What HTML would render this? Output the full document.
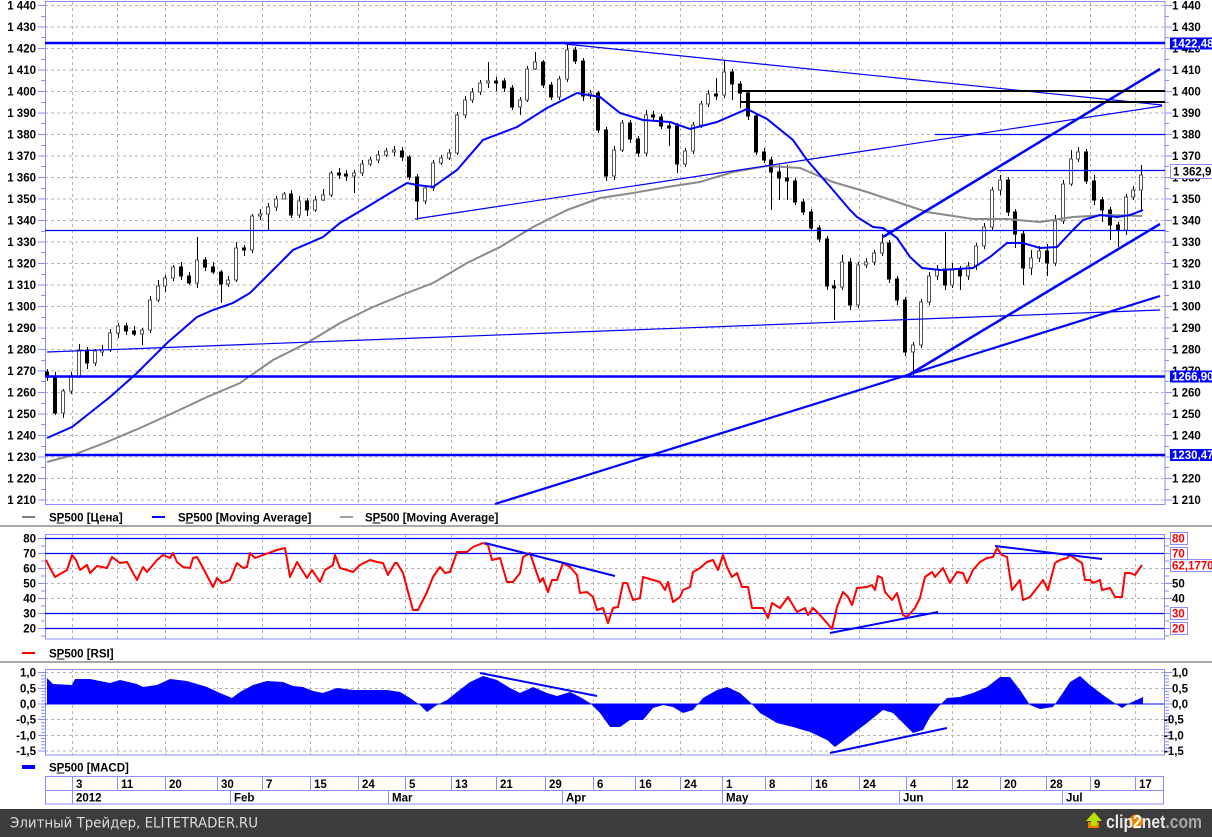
<!DOCTYPE html>
<html><head><meta charset="utf-8">
<style>
html,body{margin:0;padding:0;background:#fff;}
svg{display:block;}
.l{font-family:"Liberation Sans",Arial,sans-serif;font-weight:bold;font-size:11.5px;fill:#000;}
</style></head>
<body>
<svg xmlns="http://www.w3.org/2000/svg" xmlns:xlink="http://www.w3.org/1999/xlink" width="1212" height="837" viewBox="0 0 1212 837">
<rect x="0" y="0" width="1212" height="837" fill="#fff"/>

<!-- grids -->
<g stroke="#b4b4b4" stroke-width="1" stroke-dasharray="3,3" fill="none">
<path d="M45 5.5H1165M45 27H1165M45 48.5H1165M45 70H1165M45 91.5H1165M45 113H1165M45 134.5H1165M45 156H1165M45 177.5H1165M45 199H1165M45 220.5H1165M45 242H1165M45 263.5H1165M45 285H1165M45 306.5H1165M45 328H1165M45 349.5H1165M45 371H1165M45 392.5H1165M45 414H1165M45 435.5H1165M45 457H1165M45 478.5H1165M45 500H1165"/>
<path d="M45 568.5H1164M45 583.5H1164M45 598.5H1164"/>
<path d="M45 672.5H1164M45 688.5H1164M45 719.5H1164M45 735.5H1164M45 751H1164"/>
<path d="M72.5 2V504M72.5 534V639M72.5 669V755M117.5 2V504M117.5 534V639M117.5 669V755M165.5 2V504M165.5 534V639M165.5 669V755M217.5 2V504M217.5 534V639M217.5 669V755M262.5 2V504M262.5 534V639M262.5 669V755M310.5 2V504M310.5 534V639M310.5 669V755M358.5 2V504M358.5 534V639M358.5 669V755M405.5 2V504M405.5 534V639M405.5 669V755M451.5 2V504M451.5 534V639M451.5 669V755M496.5 2V504M496.5 534V639M496.5 669V755M545.5 2V504M545.5 534V639M545.5 669V755M593.5 2V504M593.5 534V639M593.5 669V755M635.5 2V504M635.5 534V639M635.5 669V755M680.5 2V504M680.5 534V639M680.5 669V755M722.5 2V504M722.5 534V639M722.5 669V755M765.5 2V504M765.5 534V639M765.5 669V755M811.5 2V504M811.5 534V639M811.5 669V755M859.5 2V504M859.5 534V639M859.5 669V755M906.5 2V504M906.5 534V639M906.5 669V755M952.5 2V504M952.5 534V639M952.5 669V755M1000.5 2V504M1000.5 534V639M1000.5 669V755M1046.5 2V504M1046.5 534V639M1046.5 669V755M1090.5 2V504M1090.5 534V639M1090.5 669V755M1135.5 2V504M1135.5 534V639M1135.5 669V755"/>
</g>

<!-- panel frames -->
<g fill="none" stroke="#8c8cff" stroke-width="1">
<rect x="45.5" y="1.5" width="1119.5" height="503"/>
<rect x="45.5" y="534.5" width="1119" height="104.5"/>
<rect x="45.5" y="669.5" width="1119" height="85.5"/>
</g>

<!-- ticks -->
<g id="tk" stroke="#8c8cff" stroke-width="1" fill="none">
<path d="M38 5.5H45M38 27H45M38 48.5H45M38 70H45M38 91.5H45M38 113H45M38 134.5H45M38 156H45M38 177.5H45M38 199H45M38 220.5H45M38 242H45M38 263.5H45M38 285H45M38 306.5H45M38 328H45M38 349.5H45M38 371H45M38 392.5H45M38 414H45M38 435.5H45M38 457H45M38 478.5H45M38 500H45"/>
<path d="M41 16.5H45M41 37.5H45M41 59.5H45M41 80.5H45M41 102.5H45M41 123.5H45M41 145.5H45M41 166.5H45M41 188.5H45M41 209.5H45M41 231.5H45M41 252.5H45M41 274.5H45M41 295.5H45M41 317.5H45M41 338.5H45M41 360.5H45M41 381.5H45M41 403.5H45M41 424.5H45M41 446.5H45M41 467.5H45M41 489.5H45"/>
<path d="M38 538.5H45M38 553.5H45M38 568.5H45M38 583.5H45M38 598.5H45M38 613.5H45M38 628.5H45M41 546H45M41 561H45M41 576H45M41 591H45M41 606H45M41 621H45M41 636H45"/>
<path d="M38 672.5H45M38 688.5H45M38 704H45M38 719.5H45M38 735.5H45M38 751H45M41 675.7H45M41 678.9H45M41 682H45M41 685.2H45M41 691.4H45M41 694.6H45M41 697.7H45M41 700.9H45M41 707.1H45M41 710.3H45M41 713.4H45M41 716.6H45M41 722.8H45M41 726H45M41 729.1H45M41 732.3H45M41 738.5H45M41 741.7H45M41 744.8H45M41 748H45"/>
</g>
<use xlink:href="#tk" href="#tk" transform="matrix(-1 0 0 1 1210 0)"/>

<!-- candles (static) -->
<path fill="none" stroke="#000" stroke-width="1" d="M47.5 369V381M55.5 372V415M63.5 389V418M71.5 372V394M79.5 344V378M87.5 347V369M95.5 349V366M102.5 345V356M110.5 329V352M118.5 323V338M126.5 323V335M134.5 326V336M142.5 328V345M150.5 296V333M158.5 280V302M165.5 275V292M173.5 265V281M181.5 262V280M189.5 272V285M197.5 237V288M205.5 257V271M213.5 262V274M221.5 270V303M228.5 276V287M236.5 242V282M244.5 245V256M252.5 214V253M260.5 209V220M268.5 203V230M276.5 196V211M284.5 192V199M291.5 190V218M299.5 196V218M307.5 198V216M315.5 196V212M323.5 189V201M331.5 171V197M339.5 168V179M346.5 170V181M354.5 170V193M362.5 160V176M370.5 157V166M378.5 151V163M386.5 148V157M394.5 146V156M402.5 147V161M409.5 155V180M417.5 174V220M425.5 185V204M433.5 160V191M441.5 155V165M449.5 149V160M457.5 112V155M465.5 96V118M472.5 88V103M480.5 80V95M488.5 62V88M496.5 77V91M504.5 78V92M512.5 85V110M520.5 97V115M527.5 66V102M535.5 52V70M543.5 60V88M551.5 82V100M559.5 76V100M567.5 44V82M575.5 47V64M583.5 58V101M590.5 90V99M598.5 91V133M606.5 127V181M614.5 146V180M622.5 120V152M630.5 120V143M638.5 136V157M646.5 110V156M653.5 111V121M661.5 114V129M669.5 121V146M677.5 123V173M685.5 148V167M693.5 122V154M701.5 101V128M708.5 90V107M716.5 78V100M724.5 60V98M732.5 69V100M740.5 81V108M748.5 90V120M756.5 113V155M764.5 148V163M771.5 157V210M779.5 165V200M787.5 165V200M795.5 178V205M803.5 199V215M811.5 209V231M819.5 225V242M827.5 236V290M834.5 280V320M842.5 255V290M850.5 258V310M858.5 262V308M866.5 258V268M874.5 250V265M882.5 234V256M889.5 240V283M897.5 276V305M905.5 297V356M913.5 342V375M921.5 299V348M929.5 272V305M937.5 265V280M945.5 232V290M952.5 263V288M960.5 266V290M968.5 262V280M976.5 243V270M984.5 223V249M992.5 187V230M1000.5 175V195M1008.5 177V216M1015.5 209V248M1023.5 231V285M1031.5 250V275M1039.5 246V262M1047.5 244V276M1055.5 215V266M1063.5 180V224M1071.5 150V186M1078.5 147V162M1086.5 149V184M1094.5 175V205M1102.5 197V222M1110.5 207V240M1118.5 222V247M1126.5 194V235M1133.5 186V200M1141.5 165V212"/>
<path fill="#000" stroke="#000" stroke-width="1" d="M45.5 372h3v5h-3zM53.5 377h3v36h-3zM85.5 350h3v13h-3zM124.5 326h3v5h-3zM132.5 331h3v3h-3zM179.5 267h3v9h-3zM187.5 276h3v7h-3zM203.5 260h3v7h-3zM211.5 267h3v5h-3zM219.5 272h3v12h-3zM242.5 248h3v2h-3zM289.5 194h3v21h-3zM305.5 201h3v9h-3zM337.5 173h3v2h-3zM344.5 174h3v2h-3zM400.5 151h3v6h-3zM407.5 157h3v20h-3zM415.5 177h3v24h-3zM494.5 81h3v2h-3zM502.5 81h3v7h-3zM510.5 88h3v19h-3zM541.5 62h3v23h-3zM549.5 85h3v12h-3zM573.5 50h3v11h-3zM581.5 61h3v35h-3zM596.5 93h3v37h-3zM604.5 130h3v46h-3zM628.5 123h3v16h-3zM636.5 139h3v14h-3zM651.5 115h3v2h-3zM659.5 117h3v9h-3zM667.5 126h3v2h-3zM675.5 126h3v38h-3zM714.5 94h3v2h-3zM730.5 72h3v12h-3zM738.5 84h3v9h-3zM746.5 93h3v23h-3zM754.5 116h3v36h-3zM762.5 152h3v8h-3zM769.5 160h3v12h-3zM777.5 172h3v6h-3zM785.5 178h3v3h-3zM793.5 181h3v21h-3zM801.5 202h3v10h-3zM809.5 212h3v16h-3zM817.5 228h3v11h-3zM825.5 239h3v47h-3zM832.5 286h3v2h-3zM848.5 262h3v43h-3zM887.5 243h3v36h-3zM895.5 279h3v21h-3zM903.5 300h3v52h-3zM943.5 269h3v16h-3zM958.5 270h3v6h-3zM1006.5 180h3v32h-3zM1013.5 212h3v22h-3zM1021.5 234h3v34h-3zM1045.5 251h3v12h-3zM1084.5 152h3v29h-3zM1092.5 181h3v19h-3zM1100.5 200h3v10h-3zM1108.5 210h3v15h-3zM1116.5 225h3v5h-3z"/>
<path fill="#fff" stroke="#555" stroke-width="1" d="M61.5 391h3v22h-3zM69.5 376h3v15h-3zM77.5 350h3v26h-3zM93.5 351h3v12h-3zM100.5 350h3v2h-3zM108.5 333h3v17h-3zM116.5 326h3v7h-3zM140.5 330h3v4h-3zM148.5 300h3v30h-3zM156.5 286h3v14h-3zM163.5 278h3v8h-3zM171.5 267h3v11h-3zM195.5 260h3v23h-3zM226.5 280h3v4h-3zM234.5 248h3v32h-3zM250.5 216h3v34h-3zM258.5 214h3v2h-3zM266.5 207h3v7h-3zM274.5 199h3v8h-3zM282.5 194h3v5h-3zM297.5 201h3v14h-3zM313.5 200h3v10h-3zM321.5 195h3v5h-3zM329.5 173h3v22h-3zM352.5 173h3v3h-3zM360.5 164h3v9h-3zM368.5 160h3v4h-3zM376.5 155h3v5h-3zM384.5 151h3v4h-3zM392.5 150h3v2h-3zM423.5 188h3v13h-3zM431.5 163h3v25h-3zM439.5 158h3v5h-3zM447.5 153h3v5h-3zM455.5 115h3v38h-3zM463.5 100h3v15h-3zM470.5 92h3v8h-3zM478.5 83h3v9h-3zM486.5 81h3v2h-3zM518.5 100h3v7h-3zM525.5 69h3v31h-3zM533.5 62h3v7h-3zM557.5 79h3v18h-3zM565.5 50h3v29h-3zM588.5 93h3v3h-3zM612.5 150h3v26h-3zM620.5 123h3v27h-3zM644.5 115h3v38h-3zM683.5 151h3v13h-3zM691.5 125h3v26h-3zM699.5 104h3v21h-3zM706.5 94h3v10h-3zM722.5 72h3v23h-3zM840.5 262h3v25h-3zM856.5 265h3v40h-3zM864.5 262h3v3h-3zM872.5 253h3v9h-3zM880.5 243h3v10h-3zM911.5 345h3v7h-3zM919.5 302h3v43h-3zM927.5 276h3v26h-3zM935.5 269h3v7h-3zM950.5 270h3v15h-3zM966.5 266h3v10h-3zM974.5 246h3v20h-3zM982.5 227h3v19h-3zM990.5 190h3v37h-3zM998.5 180h3v10h-3zM1029.5 258h3v10h-3zM1037.5 251h3v7h-3zM1053.5 221h3v42h-3zM1061.5 184h3v37h-3zM1069.5 159h3v25h-3zM1076.5 152h3v7h-3zM1124.5 197h3v33h-3zM1131.5 190h3v7h-3zM1139.5 175h3v15h-3z"/>

<!-- moving averages -->
<polyline fill="none" stroke="#8a8a8a" stroke-width="2" points="47,462 73,455 107,442 140,428 173,413 207,397 240,383 273,360 307,343 340,323 373,307 407,293 433,283 467,263 500,247 533,227 567,210 600,198 633,193 667,187 700,182 733,172 767,166 800,168 833,182 867,192 900,203 927,212 940,214 973,219 1007,219 1040,222 1073,217 1107,215 1142,216"/>
<polyline fill="none" stroke="#0000ff" stroke-width="2" points="47,438 72,427 110,397 137,373 167,343 197,317 213,310 233,303 250,293 273,270 293,250 323,237 340,223 367,207 390,193 407,183 417,185 433,187 457,170 483,140 517,127 547,108 577,93 600,97 620,113 643,120 670,122 690,129 717,122 747,109 767,119 793,140 807,160 833,190 850,210 857,217 873,227 883,228 897,238 910,257 922,268 940,270 973,268 990,257 1007,243 1023,243 1040,248 1057,247 1073,230 1083,220 1100,215 1117,217 1130,215 1143,210"/>

<!-- trend lines main -->
<g fill="none" stroke="#0000ff">
<path d="M45 43H1165M45 376.5H1165M45 455H1165" stroke-width="2.5"/>
<path d="M45 230.5H1165M935 134.5H1165M997 170.5H1165" stroke-width="1.2"/>
<path d="M47 352L1160 310M415 219L1162 106M565 44L1162 105" stroke-width="1.2"/>
<path d="M883 237L1160 69M907 376L1160 224" stroke-width="2.5"/>
<path d="M495 504L1160 296" stroke-width="2.2"/>
</g>
<path d="M740 91H1165M740 102H1165" stroke="#000" stroke-width="2" fill="none"/>

<!-- main axis labels -->
<g class="l" text-anchor="end">
<text x="36" y="9.5">1 440</text><text x="36" y="31">1 430</text><text x="36" y="52.5">1 420</text><text x="36" y="74">1 410</text><text x="36" y="95.5">1 400</text><text x="36" y="117">1 390</text><text x="36" y="138.5">1 380</text><text x="36" y="160">1 370</text><text x="36" y="181.5">1 360</text><text x="36" y="203">1 350</text><text x="36" y="224.5">1 340</text><text x="36" y="246">1 330</text><text x="36" y="267.5">1 320</text><text x="36" y="289">1 310</text><text x="36" y="310.5">1 300</text><text x="36" y="332">1 290</text><text x="36" y="353.5">1 280</text><text x="36" y="375">1 270</text><text x="36" y="396.5">1 260</text><text x="36" y="418">1 250</text><text x="36" y="439.5">1 240</text><text x="36" y="461">1 230</text><text x="36" y="482.5">1 220</text><text x="36" y="504">1 210</text>
</g>
<g class="l">
<text x="1172" y="9.5">1 440</text><text x="1172" y="31">1 430</text><text x="1172" y="52.5">1 420</text><text x="1172" y="74">1 410</text><text x="1172" y="95.5">1 400</text><text x="1172" y="117">1 390</text><text x="1172" y="138.5">1 380</text><text x="1172" y="160">1 370</text><text x="1172" y="181.5">1 360</text><text x="1172" y="203">1 350</text><text x="1172" y="224.5">1 340</text><text x="1172" y="246">1 330</text><text x="1172" y="267.5">1 320</text><text x="1172" y="289">1 310</text><text x="1172" y="310.5">1 300</text><text x="1172" y="332">1 290</text><text x="1172" y="353.5">1 280</text><text x="1172" y="375">1 270</text><text x="1172" y="396.5">1 260</text><text x="1172" y="418">1 250</text><text x="1172" y="439.5">1 240</text><text x="1172" y="461">1 230</text><text x="1172" y="482.5">1 220</text><text x="1172" y="504">1 210</text>
</g>
<!-- value boxes main -->
<rect x="1170" y="37.5" width="44" height="12" fill="#0000ff"/>
<text class="l" x="1172" y="47.5" style="fill:#fff">1422,48</text>
<rect x="1170.5" y="164.5" width="44" height="14" fill="#fff" stroke="#8c8cff"/>
<text class="l" x="1173" y="175.5">1 362,9</text>
<rect x="1170" y="370.5" width="44" height="12" fill="#0000ff"/>
<text class="l" x="1172" y="380.5" style="fill:#fff">1266,90</text>
<rect x="1170" y="449" width="44" height="12" fill="#0000ff"/>
<text class="l" x="1172" y="459" style="fill:#fff">1230,47</text>

<!-- main legend -->
<path d="M22 517H35" stroke="#808080" stroke-width="2"/>
<text class="l" x="49" y="521.5">SP500 [Цена]</text>
<path d="M56.7 523H64.4" stroke="#000" stroke-width="1"/>
<path d="M152 517H165" stroke="#0000ff" stroke-width="2"/>
<text class="l" x="178" y="521.5">SP500 [Moving Average]</text>
<path d="M185.7 523H193.4" stroke="#000" stroke-width="1"/>
<path d="M340 517H353" stroke="#a0a0a0" stroke-width="2"/>
<text class="l" x="365" y="521.5">SP500 [Moving Average]</text>
<path d="M372.7 523H380.4" stroke="#000" stroke-width="1"/>

<!-- separators -->
<path d="M0 526H1212M0 662H1212" stroke="#a8a8a8" stroke-width="2"/>

<!-- RSI -->
<path d="M45 538.5H1164M45 553.5H1164M45 613.5H1164M45 628.5H1164" stroke="#0000ff" stroke-width="1.2" fill="none"/>
<polyline fill="none" stroke="#ff0000" stroke-width="2" stroke-linejoin="round" points="46,560 50,568 55,577 60,574 67,570 72,555 76,560 80,570 87,565 90,573 97,566 107,568 112,557 120,563 127,562 137,580 143,567 147,572 157,560 163,555 170,558 173,553 177,562 183,567 190,568 193,558 197,557 203,568 213,587 217,578 222,583 230,580 237,563 243,568 247,567 250,553 255,558 263,555 277,550 285,548 290,577 297,562 307,578 312,570 320,582 325,570 333,565 335,555 340,568 347,570 353,572 360,565 370,560 377,562 383,563 388,575 395,563 397,563 403,573 407,588 413,610 418,610 427,592 433,577 440,567 445,573 450,572 457,552 467,552 473,547 483,543 488,545 492,560 500,558 507,582 513,582 520,573 523,557 530,553 535,568 540,582 543,578 548,592 552,580 557,580 563,563 570,567 577,575 580,593 587,592 593,597 597,610 603,608 608,623 613,608 618,607 623,583 627,583 633,600 640,598 643,577 653,580 660,582 665,590 668,582 673,602 680,597 683,590 690,587 693,572 700,568 707,562 713,560 718,570 723,555 727,567 732,577 737,573 742,587 748,587 752,608 763,608 768,618 772,603 780,608 788,597 797,612 805,608 808,615 813,608 820,615 827,623 832,629 837,607 843,592 848,597 852,605 857,588 867,587 872,585 875,590 878,576 882,578 885,592 892,600 897,593 903,615 907,617 915,608 920,598 925,577 932,572 935,577 943,568 950,583 957,572 963,573 967,583 973,570 980,562 987,558 993,557 997,548 1002,555 1007,557 1012,590 1020,580 1023,600 1030,597 1037,588 1043,580 1048,590 1055,563 1060,560 1067,558 1070,555 1077,560 1082,563 1085,580 1090,580 1093,583 1100,580 1102,590 1110,588 1115,597 1122,597 1125,573 1130,573 1135,575 1142,565"/>
<path d="M485 543L615 576M830 633L938 612M995 546L1102 559" stroke="#0000ff" stroke-width="2" fill="none"/>
<g class="l" text-anchor="end">
<text x="36" y="542.5">80</text><text x="36" y="557.5">70</text><text x="36" y="572.5">60</text><text x="36" y="587.5">50</text><text x="36" y="602.5">40</text><text x="36" y="617.5">30</text><text x="36" y="632.5">20</text>
</g>
<g fill="#fff" stroke="#8c8cff">
<rect x="1170.5" y="532.5" width="17" height="12"/>
<rect x="1170.5" y="547.5" width="17" height="12"/>
<rect x="1170.5" y="559.5" width="44" height="12"/>
<rect x="1170.5" y="607.5" width="17" height="12"/>
<rect x="1170.5" y="622.5" width="17" height="12"/>
</g>
<g class="l">
<text x="1172" y="542.5" style="fill:#f00">80</text>
<text x="1172" y="557.5" style="fill:#f00">70</text>
<text x="1172" y="569.5" style="fill:#f00">62,1770</text>
<text x="1172" y="587.5">50</text>
<text x="1172" y="602.5">40</text>
<text x="1172" y="617.5" style="fill:#f00">30</text>
<text x="1172" y="632.5" style="fill:#f00">20</text>
</g>
<path d="M22 653H35" stroke="#ff0000" stroke-width="2"/>
<text class="l" x="49" y="657.5">SP500 [RSI]</text>
<path d="M56.7 659H64.4" stroke="#000" stroke-width="1"/>

<!-- MACD -->
<path d="M45 704H1164" stroke="#0000ff" stroke-width="1"/>
<polygon fill="#0000ff" points="47,704 47,678 53,684 72,685 75,679 90,679 110,683 120,680 137,684 143,687 157,685 170,679 187,681 207,687 220,693 232,698 240,692 253,685 267,681 283,682 293,686 303,687 313,691 323,693 337,688 353,690 387,690 400,692 410,698 420,705 427,712 437,705 447,700 457,692 470,682 483,676 497,680 510,688 520,693 533,687 547,693 557,696 570,692 580,697 590,703 600,713 610,727 620,727 630,720 643,720 653,708 663,705 673,707 683,713 693,710 703,698 717,690 727,687 740,693 750,702 760,713 777,723 793,727 810,732 827,740 835,747 847,738 867,723 883,710 893,713 907,727 913,733 923,730 930,717 940,705 947,698 960,697 973,693 987,687 1000,677 1010,677 1020,690 1030,705 1040,709 1053,707 1060,697 1070,682 1080,676 1090,685 1103,695 1113,702 1122,708 1130,703 1143,697 1143,704"/>
<path d="M480 673L597 696M830 753L947 728" stroke="#0000ff" stroke-width="2" fill="none"/>
<g class="l" text-anchor="end">
<text x="36" y="676.5">1,0</text><text x="36" y="692.5">0,5</text><text x="36" y="708">0,0</text><text x="36" y="723.5">-0,5</text><text x="36" y="739.5">-1,0</text><text x="36" y="755">-1,5</text>
</g>
<g class="l">
<text x="1172" y="676.5">1,0</text><text x="1172" y="692.5">0,5</text><text x="1172" y="708">0,0</text><text x="1164" y="723.5">-0,5</text><text x="1164" y="739.5">-1,0</text><text x="1164" y="755">-1,5</text>
</g>
<path d="M22 767H35" stroke="#0000ff" stroke-width="4"/>
<text class="l" x="49" y="771.5">SP500 [MACD]</text>
<path d="M56.7 773H64.4" stroke="#000" stroke-width="1"/>

<!-- date axis -->
<g fill="none" stroke="#8c8cff" stroke-width="1">
<rect x="45.5" y="776.5" width="1118" height="27.5"/>
<path d="M45 790.5H1163.5"/>
<path d="M72.5 776.5V790.5M117.5 776.5V790.5M165.5 776.5V790.5M217.5 776.5V790.5M262.5 776.5V790.5M310.5 776.5V790.5M358.5 776.5V790.5M405.5 776.5V790.5M451.5 776.5V790.5M496.5 776.5V790.5M545.5 776.5V790.5M593.5 776.5V790.5M635.5 776.5V790.5M680.5 776.5V790.5M722.5 776.5V790.5M765.5 776.5V790.5M811.5 776.5V790.5M859.5 776.5V790.5M906.5 776.5V790.5M952.5 776.5V790.5M1000.5 776.5V790.5M1046.5 776.5V790.5M1090.5 776.5V790.5M1135.5 776.5V790.5"/>
<path d="M72.5 790.5V804M230.5 790.5V804M388.5 790.5V804M562.5 790.5V804M722.5 790.5V804M899.5 790.5V804M1062.5 790.5V804"/>
</g>
<g class="l">
<text x="76" y="788">3</text><text x="121" y="788">11</text><text x="169" y="788">20</text><text x="221" y="788">30</text><text x="266" y="788">7</text><text x="314" y="788">15</text><text x="362" y="788">24</text><text x="409" y="788">5</text><text x="455" y="788">13</text><text x="500" y="788">21</text><text x="549" y="788">29</text><text x="597" y="788">6</text><text x="639" y="788">16</text><text x="684" y="788">24</text><text x="726" y="788">1</text><text x="769" y="788">8</text><text x="815" y="788">16</text><text x="863" y="788">24</text><text x="910" y="788">4</text><text x="956" y="788">12</text><text x="1004" y="788">20</text><text x="1050" y="788">28</text><text x="1094" y="788">9</text><text x="1139" y="788">17</text>
<text x="76" y="801.5">2012</text><text x="234" y="801.5">Feb</text><text x="392" y="801.5">Mar</text><text x="566" y="801.5">Apr</text><text x="726" y="801.5">May</text><text x="903" y="801.5">Jun</text><text x="1066" y="801.5">Jul</text>
</g>

<!-- footer -->
<rect x="0" y="809" width="1212" height="28" fill="#3c3c3c"/>
<text x="10" y="827.5" font-family="'DejaVu Sans','Liberation Sans',sans-serif" font-size="14" fill="#dcdcdc" textLength="248" lengthAdjust="spacingAndGlyphs">Элитный Трейдер, ELITETRADER.RU</text>
<g>
<rect x="1088" y="822" width="11" height="6" fill="#f07800"/>
<polygon points="1086,821 1094,812 1102,821 1097,821 1097,826 1091,826 1091,821" fill="#b8e000"/>
<circle cx="1136" cy="821.5" r="7" fill="#f08000"/>
<text x="1106" y="828" font-family="'Liberation Sans',Arial,sans-serif" font-weight="bold" font-size="18" textLength="96" lengthAdjust="spacingAndGlyphs"><tspan fill="#e8e8e8">clip</tspan><tspan fill="#ffffff">2</tspan><tspan fill="#e8e8e8">net</tspan><tspan fill="#a8a8a8">.com</tspan></text>
</g>
</svg>
</body></html>
